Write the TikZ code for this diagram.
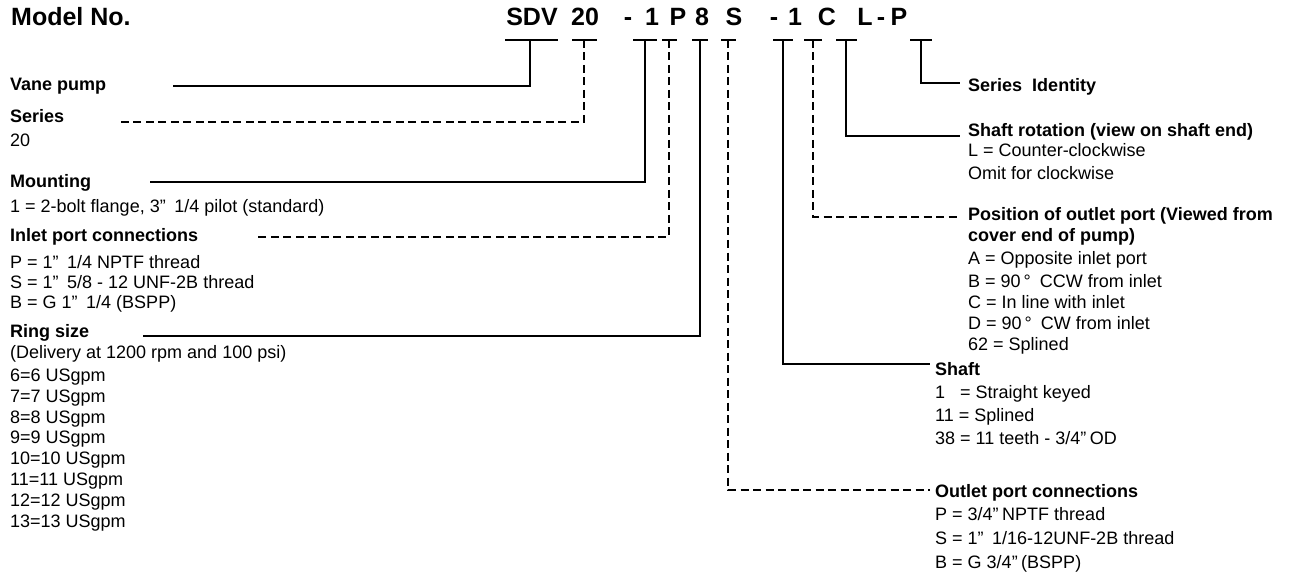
\documentclass[tikz,border=0pt]{standalone}
\usepackage{fontspec}
\setmainfont{Liberation Sans}
\newcommand{\dqm}{”\kern3.5pt}
\begin{document}
\begin{tikzpicture}[x=1pt,y=-1pt,
  conn/.style={line width=2pt},
  dconn/.style={line width=2pt, dash pattern=on 8pt off 4.5pt},
  tbar/.style={line width=2pt},
  codech/.style={font=\fontsize{25}{30}\selectfont\bfseries, anchor=base, inner sep=0pt},
  titletxt/.style={font=\fontsize{25}{30}\selectfont\bfseries, anchor=base west, inner sep=0pt},
  head/.style={font=\fontsize{18}{21}\selectfont\bfseries, anchor=base west, inner sep=0pt},
  txt/.style={font=\fontsize{18}{21}\selectfont, anchor=base west, inner sep=0pt}]
\useasboundingbox (0,0) rectangle (1297,577);

% title and code
\node[titletxt] (title) at (11,26) {Model No.};
\node[codech] (kSDV) at (532,26) {SDV};
\node[codech] (k20) at (585,26) {20};
\node[codech] (kd1) at (628,26) {-};
\node[codech] (k1) at (652,26) {1};
\node[codech] (kP) at (678,26) {P};
\node[codech] (k8) at (702,26) {8};
\node[codech] (kS) at (734,26) {S};
\node[codech] (kd2) at (774,26) {-};
\node[codech] (k1b) at (795,26) {1};
\node[codech] (kC) at (827,26) {C};
\node[codech] (kL) at (865,26) {L};
\node[codech] (kd3) at (881,26) {-};
\node[codech] (kP2) at (899,26) {P};

% tick bars
\coordinate (tSDV) at (530,40);
\coordinate (t20) at (584,40);
\coordinate (t1) at (645,40);
\coordinate (tP) at (669,40);
\coordinate (t8) at (700,40);
\coordinate (tS) at (728,40);
\coordinate (t1b) at (783,40);
\coordinate (tC) at (813,40);
\coordinate (tL) at (846,40);
\coordinate (tP2) at (921,40);
\draw[tbar] (505,40) -- (558,40);
\draw[tbar] (572,40) -- (597,40);
\draw[tbar] (633,40) -- (657,40);
\draw[tbar] (662,40) -- (677,40);
\draw[tbar] (692,40) -- (708,40);
\draw[tbar] (721,40) -- (736,40);
\draw[tbar] (773,40) -- (793,40);
\draw[tbar] (804,40) -- (822,40);
\draw[tbar] (836,40) -- (857,40);
\draw[tbar] (910,40) -- (932,40);

% left labels
\node[head] (lVane) at (10,91) {Vane pump};
\node[head] (lSeries) at (10,123) {Series};
\node[txt] (lSeriesV) at (10,147) {20};
\node[head] (lMount) at (10,188) {Mounting};
\node[txt] (lMountV) at (10,213) {1 = 2-bolt flange, 3\dqm{} 1/4 pilot (standard)};
\node[head] (lInlet) at (10,242) {Inlet port connections};
\node[txt] (lInP) at (10,268) {P = 1\dqm{} 1/4 NPTF thread};
\node[txt] (lInS) at (10,288) {S = 1\dqm{} 5/8 - 12 UNF-2B thread};
\node[txt] (lInB) at (10,308) {B = G 1\dqm{} 1/4 (BSPP)};
\node[head] (lRing) at (10,337) {Ring size};
\node[txt] (lDel) at (10,358) {(Delivery at 1200 rpm and 100 psi)};
\node[txt] (lR6) at (10,381) {6=6 USgpm};
\node[txt] (lR7) at (10,402) {7=7 USgpm};
\node[txt] (lR8) at (10,423) {8=8 USgpm};
\node[txt] (lR9) at (10,443) {9=9 USgpm};
\node[txt] (lR10) at (10,464) {10=10 USgpm};
\node[txt] (lR11) at (10,485) {11=11 USgpm};
\node[txt] (lR12) at (10,506) {12=12 USgpm};
\node[txt] (lR13) at (10,527) {13=13 USgpm};

% right labels
\node[head] (rSerId) at (968,92) {Series\ \ Identity};
\node[head] (rRot) at (968,137) {Shaft rotation (view on shaft end)};
\node[txt] (rRotL) at (968,157) {L = Counter-clockwise};
\node[txt] (rRotO) at (968,180) {Omit for clockwise};
\node[head] (rPos) at (968,221) {Position of outlet port (Viewed from};
\node[head] (rPos2) at (968,242) {cover end of pump)};
\node[txt] (rPosA) at (968,265) {A = Opposite inlet port};
\node[txt] (rPosB) at (968,287) {B = 90\,°\hspace{9pt}CCW from inlet};
\node[txt] (rPosC) at (968,308) {C = In line with inlet};
\node[txt] (rPosD) at (968,329) {D = 90\,°\hspace{9pt}CW from inlet};
\node[txt] (rPos62) at (968,350) {62 = Splined};
\node[head] (rShaft) at (935,375) {Shaft};
\node[txt] (rSh1) at (935,398) {1\hphantom{1} = Straight keyed};
\node[txt] (rSh11) at (935,421) {11 = Splined};
\node[txt] (rSh38) at (935,444) {38 = 11 teeth - 3/4\dqm{}OD};
\node[head] (rOut) at (935,497) {Outlet port connections};
\node[txt] (rOutP) at (935,520) {P = 3/4\dqm{}NPTF thread};
\node[txt] (rOutS) at (935,544) {S = 1\dqm{} 1/16-12UNF-2B thread};
\node[txt] (rOutB) at (935,568) {B = G 3/4\dqm{}(BSPP)};

% connector ends
\coordinate (eVane) at (173,86);
\coordinate (eSeries) at (118,122);
\coordinate (eMount) at (150,182);
\coordinate (eInlet) at (255,237);
\coordinate (eRing) at (143,336);
\coordinate (eOut) at (930,490);
\coordinate (eShaft) at (930,364);
\coordinate (ePos) at (958,217);
\coordinate (eRot) at (960,136);
\coordinate (eSerId) at (960,83);

% connectors
\draw[conn] (tSDV) |- (eVane);
\draw[dconn] (t20) |- (eSeries);
\draw[conn] (t1) |- (eMount);
\draw[dconn] (tP) |- (eInlet);
\draw[conn] (t8) |- (eRing);
\draw[dconn] (tS) |- (eOut);
\draw[conn] (t1b) |- (eShaft);
\draw[dconn] (tC) |- (ePos);
\draw[conn] (tL) |- (eRot);
\draw[conn] (tP2) |- (eSerId);
\end{tikzpicture}
\end{document}
